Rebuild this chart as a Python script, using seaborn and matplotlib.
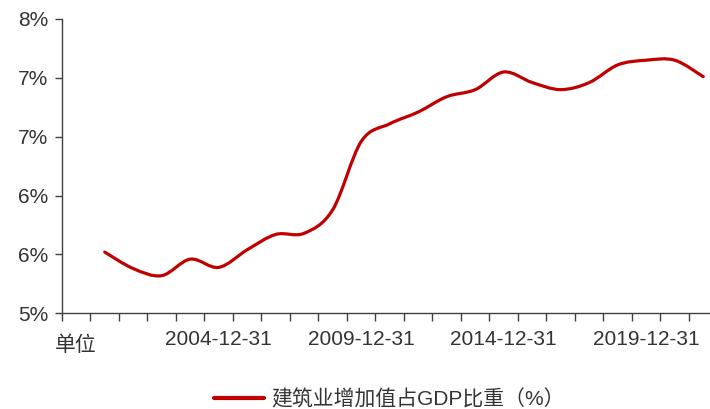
import matplotlib
matplotlib.use('Agg')
import matplotlib.pyplot as plt
from matplotlib.path import Path
from matplotlib.patches import PathPatch
from matplotlib.transforms import ScaledTranslation
import seaborn as sns
import numpy as np

sns.set_theme(style='ticks')
plt.rcParams['font.family'] = ['Liberation Sans', 'Noto Sans CJK SC', 'DejaVu Sans']
plt.rcParams['axes.unicode_minus'] = False

# 数据：建筑业增加值占GDP比重（%），2000-2021 年末
years = list(range(2000, 2022))
categories = ['单位'] + [f'{y}-12-31' for y in years]
share = [np.nan,
         5.52, 5.38, 5.32, 5.46, 5.39, 5.54, 5.67, 5.68, 5.88, 6.46,
         6.61, 6.71, 6.84, 6.90, 7.05, 6.96, 6.90, 6.96, 7.11, 7.15,
         7.15, 7.01]
y_ticks = [5.0, 5.5, 6.0, 6.5, 7.0, 7.5]
y_tick_labels = ['5%', '6%', '6%', '7%', '7%', '8%']
series_name = '建筑业增加值占GDP比重（%）'

red = '#C00000'
grey = '#404040'

fig = plt.figure(figsize=(7.1, 4.09), dpi=100)
ax = fig.add_axes([62 / 710, 1 - 313.3 / 409, 655.5 / 710, 294.3 / 409])

pos = np.arange(len(categories))
sns.lineplot(x=pos, y=share, ax=ax, color=red, linewidth=2.3,
             label=series_name)

ax.set_xlim(-0.5, len(categories) - 0.5)
ax.set_ylim(5.0, 7.5)

# 坐标轴样式
for side in ['top', 'right']:
    ax.spines[side].set_visible(False)
for side in ['left', 'bottom']:
    ax.spines[side].set_color(grey)
    ax.spines[side].set_linewidth(1.0)

ax.set_yticks(y_ticks)
ax.set_yticklabels(y_tick_labels)
ax.tick_params(axis='y', length=5, width=1, color=grey, pad=5,
               labelsize=15, labelcolor='#333333')

# 刻度线在类别边界，标签在类别中心（每5个一个）
ax.set_xticks(np.arange(len(categories) + 1) - 0.5)
ax.set_xticklabels([])
ax.tick_params(axis='x', which='major', length=6, width=1, color=grey)
ax.set_xticks(pos[::5], minor=True)
ax.set_xticklabels(categories[::5], minor=True)
ax.tick_params(axis='x', which='minor', length=0, pad=12,
               labelsize=15, labelcolor='#333333')

ax.set_xlabel('')
ax.set_ylabel('')
ax.grid(False)

leg = ax.legend(loc='center', bbox_to_anchor=(0.5, -0.291), frameon=False,
                fontsize=15, handlelength=2.4, handletextpad=0.35,
                labelcolor='#333333')
for h in leg.get_lines():
    h.set_linewidth(3)

# 平滑曲线（同 Excel 的平滑线）：用数据点构造贝塞尔路径，替换折线
line = ax.get_lines()[0]
xd = np.asarray(line.get_xdata(), dtype=float)
yd = np.asarray(line.get_ydata(), dtype=float)
ok = ~np.isnan(yd)
pts = np.column_stack([xd[ok], yd[ok]])
n = len(pts)
verts = [pts[0]]
codes = [Path.MOVETO]
for i in range(n - 1):
    p_prev = pts[max(i - 1, 0)]
    p0, p1 = pts[i], pts[i + 1]
    p_next = pts[min(i + 2, n - 1)]
    verts += [p0 + (p1 - p_prev) / 6, p1 - (p_next - p0) / 6, p1]
    codes += [Path.CURVE4] * 3
ax.add_patch(PathPatch(Path(verts, codes), facecolor='none', edgecolor=red,
                       linewidth=2.3, capstyle='round', joinstyle='round'))
line.set_visible(False)

# “单位”比日期标签略低
fig.canvas.draw()
for t in ax.xaxis.get_minor_ticks():
    if t.label1.get_text() == '单位':
        t.label1.set_transform(t.label1.get_transform() +
                               ScaledTranslation(0, -4 / 72, fig.dpi_scale_trans))

fig.savefig('out.png', dpi=100)
